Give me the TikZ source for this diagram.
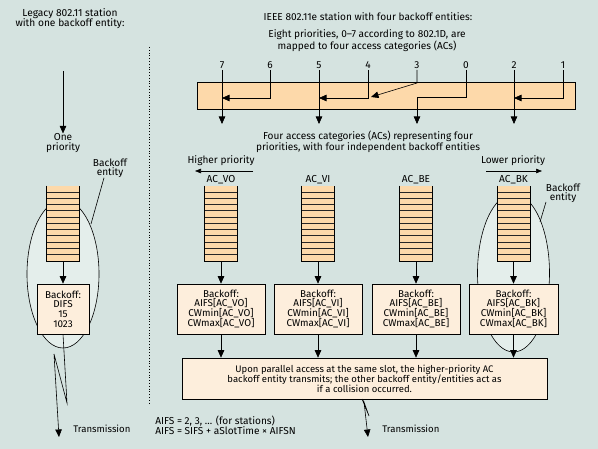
\documentclass[tikz,border=0pt]{standalone}
\usepackage{fontspec}
\setmainfont{Fira Sans}
\usetikzlibrary{arrows.meta,shapes.geometric,calc}
\definecolor{bg}{HTML}{D5E3E0}
\definecolor{efill}{HTML}{E4EEEB}
\definecolor{qfill}{HTML}{FDD9AA}
\definecolor{bfill}{HTML}{FDEEDC}
\begin{document}
\begin{tikzpicture}[x=1pt,y=-1pt,
  font=\fontsize{10.1}{9.3}\selectfont,
  line width=0.6pt,
  arr/.style={-{Triangle[length=7.5pt,width=6.5pt]}},
  sarr/.style={-{Triangle[length=6pt,width=4.5pt]}},
  queue/.style={rectangle,fill=qfill,minimum width=32pt,minimum height=75pt,inner sep=0pt},
  qline/.style={line width=0.6pt,black!85},
  bbox/.style={draw,fill=bfill,minimum width=88pt,minimum height=50pt,inner sep=0pt,align=center,font=\fontsize{9.9}{9}\selectfont},
  ent/.style={draw,fill=efill,ellipse,inner sep=0pt},
  txt/.style={align=center,inner sep=0pt}]
\useasboundingbox (0,0) rectangle (598,449);
\fill[bg] (0,0) rectangle (598,449);

% ellipses (backoff entities)
\node[ent,minimum width=72pt,minimum height=148pt] (e0) at (63,274) {};
\node[ent,minimum width=72pt,minimum height=158pt] (e4) at (513.5,273) {};

% queues
\foreach \n/\x in {q0/63,q1/221,q2/318,q3/416,q4/513.5} {
  \node[queue] (\n) at (\x,223.5) {};
  \foreach \i in {1,...,11}
    \draw[qline] ([yshift=-\i*6.25pt]\n.north west) -- ([yshift=-\i*6.25pt]\n.north east);
  \draw (\n.north west) -- (\n.south west) -- (\n.south east) -- (\n.north east);
}

% headings
\node[txt,font=\fontsize{10.2}{10.3}\selectfont] (legacy) at (70,18.5) {Legacy 802.11 station\\with one backoff entity:};
\node[txt] (ieee) at (368,17) {IEEE 802.11e station with four backoff entities:};
\node[txt,font=\fontsize{10.1}{9}\selectfont] (eight) at (367,40.5) {Eight priorities, 0–7 according to 802.1D, are\\mapped to four access categories (ACs)};
\node[txt] (four) at (368,141.5) {Four access categories (ACs) representing four\\priorities, with four independent backoff entities};

% dotted separator
\coordinate (d1) at (149,47);
\coordinate (d2) at (149,403);
\draw[dotted,line width=0.8pt] (d1) -- (d2);

% legacy side
\coordinate (ltop) at (63,71);
\node[txt] (onep) at (63,143) {One\\priority};
\draw[arr] (ltop) -- (onep.north);
\node[txt] (be0) at (110,168) {Backoff\\entity};
\coordinate (be0e) at (91,224);
\draw (be0.south) ++(-6,0) coordinate (be0s) -- (be0e);
\node[bbox,minimum width=52pt,font=\fontsize{9.9}{9.7}\selectfont] (b0) at (63,309) {Backoff:\\DIFS\\15\\1023};
\draw[arr] (q0.south) -- (b0.north);
\coordinate (lz1) at (67,403);
\coordinate (lz2) at (54,354);
\coordinate (lz3) at (59,437);
\draw[arr] (b0.south) -- (lz1) -- (lz2) -- (lz3);
\node[anchor=west,inner sep=0pt,font=\fontsize{9.6}{9.6}\selectfont] (tr0) at (73,429) {Transmission};

% priority bar
\node[draw,fill=qfill,minimum width=378pt,minimum height=27pt,inner sep=0pt] (bar) at (386,95.5) {};
\foreach \n/\x in {7/222,6/270,5/319,4/368,3/417,0/466,2/514,1/563}
  \node[inner sep=0pt] (p\n) at (\x,65) {\n};
\coordinate (t1) at (222,124);
\coordinate (t2) at (319,124);
\coordinate (t3) at (417,124);
\coordinate (t4) at (514,124);
\draw[arr] ([yshift=-5pt]p7.center) -- (t1);
\draw[arr] ([yshift=-5pt]p5.center) -- (t2);
\draw[arr] ([yshift=-5pt]p2.center) -- (t4);
\draw[arr] ([yshift=-5pt]p6.center) |- (222,98);
\draw[arr] ([yshift=-5pt]p4.center) |- (319,98);
\draw[arr] ([yshift=-5pt]p1.center) |- (514,98);
\draw[arr] ([yshift=-5pt]p3.center) -- (417,83) -- (371,97);
\draw[arr] ([yshift=-5pt]p0.center) |- (417,97) -- (t3);

% priority direction
\node[txt] (hp) at (221,161) {Higher priority};
\node[txt] (lp) at (513,161) {Lower priority};
\coordinate (hpa) at (253,171);
\coordinate (hpb) at (195,171);
\coordinate (lpa) at (486,171);
\coordinate (lpb) at (542,171);
\draw[sarr] (hpa) -- (hpb);
\draw[sarr] (lpa) -- (lpb);

% AC labels
\foreach \n/\l in {q1/AC\_VO,q2/AC\_VI,q3/AC\_BE,q4/AC\_BK}
  \node[inner sep=0pt,anchor=south] at ([yshift=1.5pt]\n.north) {\l};

% backoff entity label right
\node[txt] (be4) at (563,193) {Backoff\\entity};
\coordinate (be4s) at (546,202);
\coordinate (be4e) at (540,222);
\draw (be4s) -- (be4e);

% backoff boxes
\node[bbox] (b1) at (221,309) {Backoff:\\AIFS[AC\_VO]\\CWmin[AC\_VO]\\CWmax[AC\_VO]};
\node[bbox] (b2) at (318,309) {Backoff:\\AIFS[AC\_VI]\\CWmin[AC\_VI]\\CWmax[AC\_VI]};
\node[bbox] (b3) at (416,309) {Backoff:\\AIFS[AC\_BE]\\CWmin[AC\_BE]\\CWmax[AC\_BE]};
\node[bbox,minimum width=89pt] (b4) at (513.5,309) {Backoff:\\AIFS[AC\_BK]\\CWmin[AC\_BK]\\CWmax[AC\_BK]};
\foreach \i in {1,2,3,4} \draw[arr] (q\i.south) -- (b\i.north);

% big box
\node[draw,fill=bfill,minimum width=365pt,minimum height=41pt,inner sep=0pt,align=center,font=\fontsize{9.5}{9.5}\selectfont] (big) at (364.5,378.5)
  {Upon parallel access at the same slot, the higher-priority AC\\backoff entity transmits; the other backoff entity/entities act as\\if a collision occurred.};
\foreach \i in {1,2,3,4} \draw[arr] (b\i.south) -- (b\i.south |- big.north);

% right transmission
\coordinate (rz0) at (362,399);
\coordinate (rz1) at (369,416);
\coordinate (rz2) at (364,402);
\coordinate (rz3) at (368,437);
\draw[arr] (rz0) -- (rz1) -- (rz2) -- (rz3);
\node[anchor=west,inner sep=0pt,font=\fontsize{9.6}{9.6}\selectfont] (tr1) at (382,429) {Transmission};

% AIFS text
\node[anchor=west,align=left,inner sep=0pt] (aifs) at (155,425.5) {AIFS = 2, 3, ... (for stations)\\AIFS = SIFS + aSlotTime × AIFSN};
\end{tikzpicture}
\end{document}
